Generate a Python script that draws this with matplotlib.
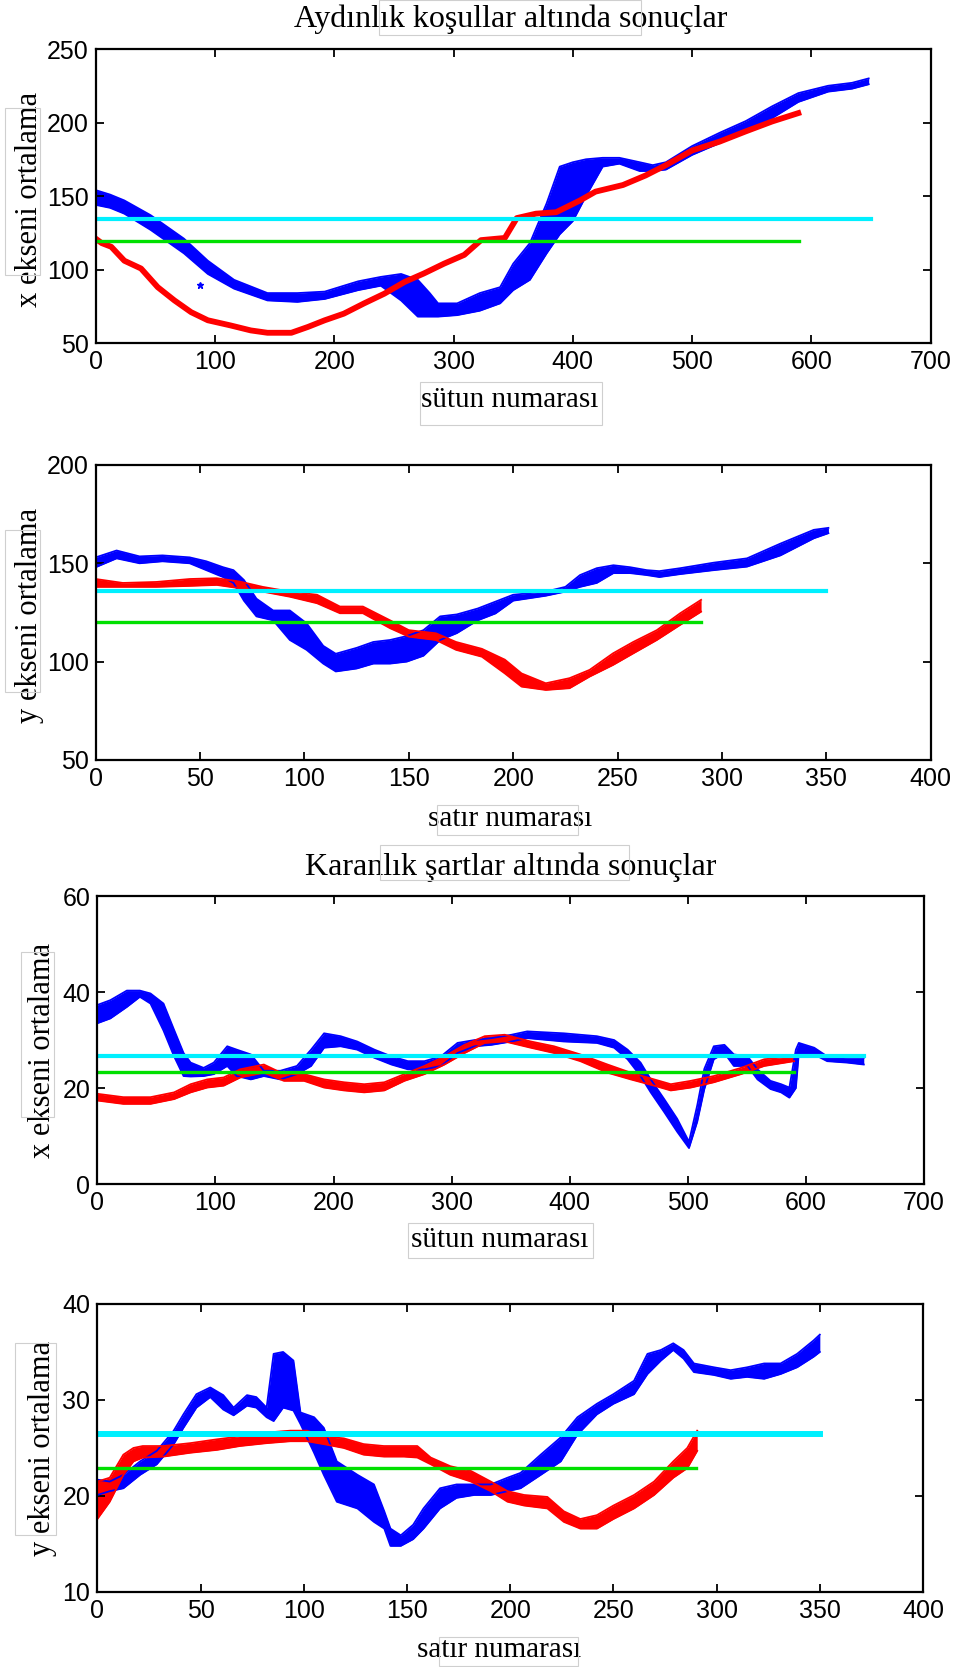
import matplotlib
matplotlib.use("Agg")
import matplotlib.pyplot as plt
from matplotlib.patches import Rectangle


# --- Aydinlik: x ekseni ortalama vs sutun numarasi ---
p1_blue_x = [0, 12, 24, 46, 74, 94, 116, 144, 169, 192, 220, 239, 256, 270, 280, 287,
             303, 322, 339, 350, 364, 378, 389, 400, 411, 425, 439, 456, 467, 478,
             500, 523, 545, 567, 589, 614, 634, 648]
p1_blue_lo = [144, 142, 138, 127, 111, 97, 87, 79, 78, 80, 86, 89, 79, 68, 68, 68,
              69, 72, 77, 86, 93, 111, 124, 133, 150, 170, 172, 167, 167, 168,
              178, 186, 194, 203, 214, 221, 223, 226]
p1_blue_hi = [154, 151, 147, 137, 121, 106, 93, 84, 84, 85, 92, 95, 97, 93, 84, 77,
              77, 84, 88, 104, 118, 145, 170, 173, 175, 176, 176, 173, 171, 173,
              184, 193, 201, 211, 220, 225, 227, 230]
p1_red_x = [0, 5, 13, 24, 38, 52, 66, 80, 94, 113, 130, 144, 164, 178, 192, 208, 225,
            242, 259, 275, 292, 309, 323, 343, 353, 369, 386, 406, 419, 442, 461, 478,
            500, 523, 545, 567, 589]
p1_red_y = [121, 118, 115.5, 106, 100.7, 88, 79, 71, 65.5, 62, 58.6, 57, 57, 61, 65.5,
            70, 77, 83.6, 91.6, 97.3, 104, 110, 120, 121.5, 135, 138, 139, 147, 153,
            157.5, 164, 171, 181, 187, 194, 200.7, 206.4]
p1_dot = (87.6, 89.3)
p1_cyan = (134.3, 650)
p1_green = (119.5, 590)

# --- Aydinlik: y ekseni ortalama vs satir numarasi ---
p2_blue_x = [0, 10, 21, 32, 45, 53, 61, 66, 71, 77, 85, 93, 101, 109, 115, 125, 133,
             141, 149, 157, 165, 173, 183, 191.5, 200, 215.6, 225, 232, 240, 248, 256,
             264, 270, 280, 296, 312, 328, 344, 351]
p2_blue_lo = [148, 152.5, 150, 151, 150, 146.5, 143, 140, 131, 123, 121, 111, 106, 99,
              95, 96.5, 99, 99, 100, 103, 111, 114.5, 121, 124.5, 131, 133.5, 135.6,
              138, 140, 145, 145, 144, 143, 144.5, 146.5, 148.3, 154, 162.7, 165.3]
p2_blue_hi = [153, 156.5, 153.5, 154, 153, 151, 148, 146.5, 141.5, 132, 126, 126, 119.5,
              108, 104, 107, 110, 111, 113, 116, 123, 124, 127, 130.5, 134, 135.6, 138,
              144, 147.5, 149, 148, 146.5, 146, 147.5, 150.3, 152.5, 160, 167, 168]
p2_red_x = [0, 13, 29, 45, 58, 69, 80, 93, 106, 117, 128, 141, 150, 163, 172.6, 185,
            196, 204, 215.6, 227, 236.6, 247.8, 257.5, 268.8, 280, 290]
p2_red_lo = [138, 138, 138, 138.5, 139, 137.3, 135.6, 133, 129.7, 124.6, 124.6, 117,
             112.7, 111, 106, 102.5, 94, 87.3, 85.6, 86.5, 92.4, 98.3, 104.2, 111,
             118.7, 125.4]
p2_red_hi = [142, 140, 140.5, 142, 142.4, 140.7, 138, 135.6, 134, 128, 128, 121, 116,
             114.4, 110, 106.5, 101, 94, 89, 91.6, 95.8, 104.2, 110, 116, 124.6, 131.4]
p2_cyan = (136, 350)
p2_green = (120, 290)

# --- Karanlik: x ekseni ortalama vs sutun numarasi ---
p3_blue_x = [0, 11, 25, 36, 45, 56, 65, 73, 79, 90, 98.6, 110, 118, 130, 141, 155, 169,
             181, 192, 206, 220, 234.6, 249, 263, 277, 291, 305, 319.5, 333.7, 350.7,
             364, 395, 423, 437.6, 449, 460, 468.6, 480, 491, 501, 508, 514, 522, 531,
             539, 550.6, 559, 570, 579, 586, 591.5, 594, 607, 618, 635, 649]
p3_blue_lo = [33.5, 34.5, 36.9, 39, 37.6, 32, 26.6, 22.5, 22.4, 22.5, 22.9, 24.6, 22.5,
              21.8, 22.5, 21.8, 22.9, 24.6, 28.4, 28.7, 28, 26.3, 24.9, 23.9, 23.9, 24.6,
              27.3, 28.7, 29, 29.7, 30.4, 29.7, 29.4, 28.4, 26, 22.5, 19.1, 15, 10.9,
              7.5, 13, 19.8, 26, 27.3, 24.6, 24.6, 21.8, 19.8, 19.1, 18, 20, 27.3, 27,
              25.6, 25.3, 24.9]
p3_blue_hi = [37.3, 38.3, 40.3, 40.3, 39.7, 37.6, 32.1, 27.3, 25.3, 24.2, 25.3, 28.7, 28,
              27, 23.6, 23.6, 24.6, 28, 31.4, 30.8, 29.7, 28, 26.6, 25.6, 25.6, 26.6,
              29.4, 30, 30.4, 31.1, 31.8, 31.4, 30.8, 30, 28, 25.3, 21.8, 17.7, 13.6,
              8.8, 16.4, 24, 28.7, 29, 27, 26.6, 23.9, 21.5, 20.8, 20.1, 28, 29.4, 28.4,
              26.6, 26.3, 26.3]
p3_red_x = [0, 22, 45, 65, 79, 93, 107, 121, 141, 158, 175, 192, 209, 226, 243, 260, 277,
            294, 311, 328, 345, 367, 386.7, 409, 432, 451.7, 471.5, 485.6, 502.5, 522,
            545, 564.7, 590]
p3_red_lo = [17.4, 16.7, 16.7, 17.7, 19.1, 20.1, 20.5, 22.2, 23.2, 21.5, 21.5, 20.1, 19.5,
             19.1, 19.5, 21.5, 22.9, 24.9, 27.3, 29.4, 29.7, 28.4, 27.3, 25.6, 23.2, 21.8,
             20.5, 19.5, 20.1, 21.2, 22.9, 24.6, 25.6]
p3_red_hi = [18.8, 18.1, 18.1, 19.1, 20.8, 21.8, 22.2, 23.9, 24.9, 22.9, 22.9, 21.8, 21.2,
             20.8, 21.2, 22.9, 24.6, 26.6, 29, 30.8, 31.1, 29.7, 28.7, 27, 24.9, 23.2,
             21.8, 20.8, 21.5, 22.5, 24.2, 26, 26.6]
p3_cyan = (26.6, 649)
p3_green = (23.4, 590)

# --- Karanlik: y ekseni ortalama vs satir numarasi ---
p4_blue_x = [0, 6, 12.6, 20.7, 28.8, 37, 41.7, 48, 54.7, 61, 66, 72.5, 77, 82, 85.4, 90,
             95, 98.4, 105, 109.7, 116, 126, 134, 139, 142, 147, 153, 158, 166, 174,
             182.5, 190.6, 198.7, 205, 214.8, 224.5, 232.6, 242, 250, 260, 266.5, 273,
             279, 284, 289, 298.7, 306.8, 314.8, 323, 331, 339, 347, 350]
p4_blue_lo = [20.1, 20.5, 20.8, 22.2, 23.3, 25.4, 27.1, 29.2, 30.3, 29, 28.4, 29.4, 29.2,
              28.2, 27.8, 29.2, 28.9, 27.5, 24.5, 22.2, 19.4, 18.7, 17.3, 16.6, 14.8,
              14.8, 15.5, 16.6, 18.7, 19.8, 20.1, 20.1, 20.5, 20.8, 22.2, 23.6, 26.4,
              28.5, 29.6, 30.6, 32.7, 34.1, 35.2, 34.3, 32.9, 32.6, 32.2, 32.4, 32.2,
              32.7, 33.4, 34.5, 35]
p4_blue_hi = [21.7, 21.5, 22.2, 23.6, 24.7, 26.8, 28.5, 30.6, 31.3, 30.5, 29.2, 30.5, 30.3,
              29.2, 34.8, 35, 34.1, 28.7, 28.2, 27.1, 23.6, 22.2, 21.2, 18.4, 16.6, 15.9,
              17, 18.7, 20.8, 21.2, 21.2, 21.2, 21.9, 22.4, 24.3, 26.1, 28.2, 29.6, 30.6,
              32, 34.8, 35.2, 35.9, 35.2, 33.8, 33.4, 33.1, 33.4, 33.8, 33.8, 34.8, 36.2,
              36.8]
p4_red_x = [0, 6, 12.6, 17.5, 22, 32, 45, 58, 69, 82, 93.5, 101.6, 109.7, 119.4, 129,
            138.8, 148.5, 155, 161.5, 171, 181, 190.6, 198.7, 206.8, 218, 226, 234, 242,
            250, 260, 269.7, 279, 285.8, 290.6]
p4_red_lo = [17.6, 19.4, 22.2, 23.6, 24, 24.1, 24.5, 24.8, 25.2, 25.5, 25.7, 25.7, 25.4,
             25, 24.3, 24.1, 24.1, 24, 23.3, 22.2, 21.5, 20.5, 19.4, 19, 18.7, 17.3, 16.6,
             16.6, 17.6, 18.7, 20.1, 21.9, 22.9, 24.7]
p4_red_hi = [21.5, 21.9, 24.3, 25, 25.2, 25.2, 25.5, 25.9, 26.2, 26.6, 26.8, 26.8, 26.2,
             26, 25.4, 25.2, 25.2, 25.2, 24, 23.1, 22.6, 21.5, 20.5, 20.1, 19.9, 18.4,
             17.6, 18, 19, 20.1, 21.5, 23.6, 25, 26.8]
p4_cyan = (26.5, 350)
p4_green = (22.9, 290)

p1_xticks = [0, 100, 200, 300, 400, 500, 600, 700]
p1_yticks = [50, 100, 150, 200, 250]
p2_xticks = [0, 50, 100, 150, 200, 250, 300, 350, 400]
p2_yticks = [50, 100, 150, 200]
p3_yticks = [0, 20, 40, 60]
p4_yticks = [10, 20, 30, 40]

title_light = "Aydınlık koşullar altında sonuçlar"
title_dark = "Karanlık şartlar altında sonuçlar"

BLUE = "#0000ff"
RED = "#ff0000"
CYAN = "#00f0ff"
GREEN = "#00e000"
SERIF = "Liberation Serif"
SANS = "Liberation Sans"

W, H = 959, 1667


def draw_band(ax, x, lo, hi, color):
    ax.fill_between(x, lo, hi, color=color, lw=0)
    ax.plot(x, lo, color=color, lw=1.3)
    ax.plot(x, hi, color=color, lw=1.3)


def draw_levels(ax, cyan, green, cyan_lw=3.0):
    ax.plot([0, cyan[1]], [cyan[0], cyan[0]], color=CYAN, lw=cyan_lw)
    ax.plot([0, green[1]], [green[0], green[0]], color=GREEN, lw=2.4)


def style_axes(ax, xticks, yticks, xlabel, ylabel, xlab_pos, ylab_pos):
    ax.set_xlim(xticks[0], xticks[-1])
    ax.set_ylim(yticks[0], yticks[-1])
    ax.set_xticks(xticks)
    ax.set_yticks(yticks)
    ax.tick_params(direction="in", length=6, width=1.3, top=True, right=True,
                   labelsize=18, pad=5)
    for lab in ax.get_xticklabels() + ax.get_yticklabels():
        lab.set_family(SANS)
    for sp in ax.spines.values():
        sp.set_linewidth(1.6)
    ax.set_xlabel(xlabel, family=SERIF, fontsize=21, va="center")
    ax.xaxis.set_label_coords(*xlab_pos)
    ax.set_ylabel(ylabel, family=SERIF, fontsize=22, va="center")
    ax.yaxis.set_label_coords(*ylab_pos)


def add_box(fig, x0, y0, x1, y1):
    # faint frames left over from the source document
    fig.add_artist(Rectangle((x0 / W, 1 - y1 / H), (x1 - x0) / W, (y1 - y0) / H,
                             transform=fig.transFigure, fill=False,
                             edgecolor="#cfcfcf", lw=0.8))


fig = plt.figure(figsize=(W / 100, H / 100), dpi=100)

for b in [(379, 0, 641, 35), (5, 108, 40, 275), (420, 382, 602, 425),
          (437, 805, 578, 835), (5, 530, 40, 692), (380, 845, 629, 880),
          (21, 952, 54, 1117), (408, 1223, 593, 1258), (15, 1343, 56, 1535),
          (439, 1637, 578, 1666)]:
    add_box(fig, *b)

ax1 = fig.add_axes([0.0998, 0.7942, 0.8707, 0.1764])
draw_band(ax1, p1_blue_x, p1_blue_lo, p1_blue_hi, BLUE)
ax1.plot(p1_red_x, p1_red_y, color=RED, lw=4.2)
ax1.plot([p1_dot[0]], [p1_dot[1]], marker="*", color=BLUE, ms=5)
draw_levels(ax1, p1_cyan, p1_green)
style_axes(ax1, p1_xticks, p1_yticks, "sütun numarası", "x ekseni ortalama",
           (0.496, -0.194), (-0.079, 0.49))
ax1.text(0.497, 1.1, title_light, transform=ax1.transAxes, ha="center",
         va="center", family=SERIF, fontsize=23)

ax2 = fig.add_axes([0.0998, 0.5441, 0.8707, 0.177])
draw_band(ax2, p2_blue_x, p2_blue_lo, p2_blue_hi, BLUE)
draw_band(ax2, p2_red_x, p2_red_lo, p2_red_hi, RED)
draw_levels(ax2, p2_cyan, p2_green)
style_axes(ax2, p2_xticks, p2_yticks, "satır numarası", "y ekseni ortalama",
           (0.496, -0.2), (-0.079, 0.49))

ax3 = fig.add_axes([0.1015, 0.2897, 0.862, 0.1728])
draw_band(ax3, p3_blue_x, p3_blue_lo, p3_blue_hi, BLUE)
draw_band(ax3, p3_red_x, p3_red_lo, p3_red_hi, RED)
draw_levels(ax3, p3_cyan, p3_green)
style_axes(ax3, p1_xticks, p3_yticks, "sütun numarası", "x ekseni ortalama",
           (0.487, -0.193), (-0.066, 0.465))
ax3.text(0.5, 1.1, title_dark, transform=ax3.transAxes, ha="center",
         va="center", family=SERIF, fontsize=23)

ax4 = fig.add_axes([0.1015, 0.045, 0.861, 0.1728])
draw_band(ax4, p4_blue_x, p4_blue_lo, p4_blue_hi, BLUE)
draw_band(ax4, p4_red_x, p4_red_lo, p4_red_hi, RED)
draw_levels(ax4, p4_cyan, p4_green, cyan_lw=4.3)
style_axes(ax4, p2_xticks, p4_yticks, "satır numarası", "y ekseni ortalama",
           (0.487, -0.2), (-0.066, 0.5))

fig.savefig("out.png", dpi=100)
